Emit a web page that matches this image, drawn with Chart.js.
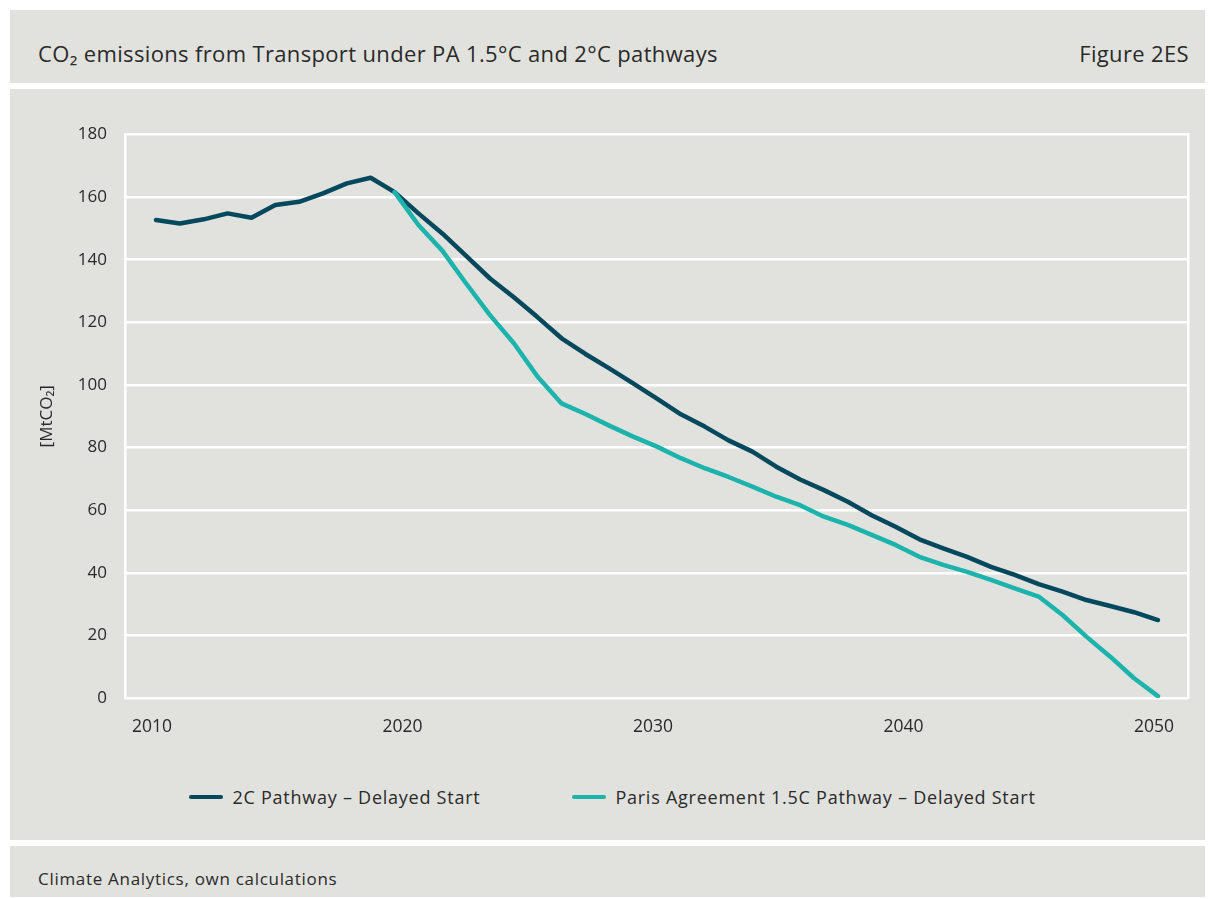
<!DOCTYPE html>
<html>
<head>
<meta charset="utf-8">
<script src="https://cdn.jsdelivr.net/npm/chart.js@4.4.1/dist/chart.umd.min.js"></script>
<style>
    body { margin: 0; background: #fff; font-family: 'Open Sans', sans-serif; color: #2a2a2a; }
    .page { position: relative; width: 1215px; height: 899px; }
    .band { position: absolute; left: 10px; width: 1195px; background: #e1e2dd; }
    #head { top: 10px; height: 73px; }
    #head .title { position: absolute; left: 28px; top: 30px; font-size: 22px; line-height: 26px; letter-spacing: 0.35px; }
    #head .fig { position: absolute; right: 16px; top: 30px; font-size: 22px; line-height: 26px; letter-spacing: 0.35px; }
    #panel { top: 89px; height: 751px; }
    #chartBox { position: absolute; left: 0; top: 0; width: 1195px; height: 651px; }
    #legend { position: absolute; left: 0; top: 696px; width: 100%; display: flex; justify-content: center;
              padding-left: 10px; box-sizing: border-box; font-size: 18px; line-height: 24px; letter-spacing: 0.75px; }
    .item { display: flex; align-items: center; margin: 0 46px; }
    .swatch { width: 34px; height: 4px; border-radius: 2px; margin-right: 9px; }
    #foot { top: 846px; height: 51px; }
    #foot .src { position: absolute; left: 28px; top: 22px; font-size: 17px; line-height: 22px; letter-spacing: 0.7px; }
</style>
</head>
<body>
<div class="page">
    <div class="band" id="head">
        <div class="title">CO₂ emissions from Transport under PA 1.5°C and 2°C pathways</div>
        <div class="fig">Figure 2ES</div>
    </div>
    <div class="band" id="panel">
        <div id="chartBox"><canvas id="lineChart"></canvas></div>
        <div id="legend"></div>
    </div>
    <div class="band" id="foot">
        <div class="src">Climate Analytics, own calculations</div>
    </div>
</div>
<script>
// series, 43 evenly spaced steps from 2010 to 2050
const pathway2C = [
    152.7, 151.6, 152.9, 154.8, 153.4, 157.5, 158.5, 161.2, 164.4, 166.2,
    161.6, 154.8, 148.4, 141.2, 134.0, 128.0, 121.6, 114.9, 109.9, 105.3,
    100.5, 95.6, 90.6, 86.7, 82.3, 78.7, 73.9, 69.8, 66.4, 62.7,
    58.4, 54.7, 50.7, 47.8, 45.1, 41.9, 39.3, 36.4, 34.0, 31.3,
    29.4, 27.4, 24.9
];
const pathwayPA15 = [
    null, null, null, null, null, null, null, null, null, null,
    161.6, 151.1, 142.9, 132.4, 122.3, 113.3, 102.6, 94.1, 90.7, 87.0,
    83.5, 80.3, 76.6, 73.4, 70.6, 67.5, 64.3, 61.6, 57.9, 55.3,
    52.1, 48.9, 45.1, 42.5, 40.3, 37.7, 35.0, 32.4, 26.5, 19.6,
    13.2, 6.3, 0.6
];
const xTickLabels = ['2010', '2020', '2030', '2040', '2050'];
const yTicks = [0, 20, 40, 60, 80, 100, 120, 140, 160, 180];
const seriesNames = ['2C Pathway – Delayed Start', 'Paris Agreement 1.5C Pathway – Delayed Start'];
const seriesColors = ['#03485d', '#1db3ad'];

const toPoints = arr => arr.map((v, i) => ({ x: i, y: v }));
const lastIdx = pathway2C.length - 1;
const tickPos = xTickLabels.map((_, k) => k * lastIdx / (xTickLabels.length - 1));

const tickFont = { family: 'Open Sans', size: 17 };

new Chart(document.getElementById('lineChart').getContext('2d'), {
    type: 'line',
    data: {
        datasets: [
            {
                label: seriesNames[0],
                data: toPoints(pathway2C),
                borderColor: seriesColors[0],
                borderWidth: 4.5,
                borderCapStyle: 'round',
                borderJoinStyle: 'round',
                pointRadius: 0,
                tension: 0,
                order: 2
            },
            {
                label: seriesNames[1],
                data: toPoints(pathwayPA15),
                borderColor: seriesColors[1],
                borderWidth: 4.5,
                borderCapStyle: 'round',
                borderJoinStyle: 'round',
                pointRadius: 0,
                tension: 0,
                spanGaps: false,
                order: 1
            }
        ]
    },
    options: {
        responsive: true,
        maintainAspectRatio: false,
        animation: false,
        layout: { padding: { top: 45.5, right: 17, left: 0, bottom: 0 } },
        plugins: {
            legend: { display: false },
            tooltip: { enabled: false }
        },
        scales: {
            x: {
                type: 'linear',
                min: -1.3,
                max: 43.26,
                afterBuildTicks: s => { s.ticks = tickPos.map(v => ({ value: v })); },
                afterFit: s => { s.height = 42; },
                ticks: {
                    color: '#2a2a2a',
                    font: { family: 'Open Sans', size: 17.5 },
                    padding: 11,
                    labelOffset: -4,
                    maxRotation: 0,
                    autoSkip: false,
                    callback: (v, i) => xTickLabels[i]
                },
                grid: { display: false },
                border: { display: false }
            },
            y: {
                min: 0,
                max: 180,
                afterBuildTicks: s => { s.ticks = yTicks.map(v => ({ value: v })); },
                afterFit: s => { s.width = 115; },
                ticks: { color: '#2a2a2a', font: tickFont, padding: 18 },
                grid: { color: '#ffffff', lineWidth: 2.5, drawTicks: false },
                border: { display: true, color: '#ffffff', width: 2.5 },
                title: {
                    display: true,
                    text: '[MtCO₂]',
                    color: '#2a2a2a',
                    font: { family: 'Open Sans', size: 17 },
                    padding: { top: 27, bottom: 0 }
                }
            },
            yRight: {
                position: 'right',
                min: 0,
                max: 180,
                afterFit: s => { s.width = 0; },
                ticks: { display: false },
                grid: { display: false },
                border: { display: true, color: '#ffffff', width: 2.5 }
            }
        }
    }
});

// legend built from the series names and colours
const legendEl = document.getElementById('legend');
seriesNames.forEach((name, i) => {
    const item = document.createElement('div');
    item.className = 'item';
    const sw = document.createElement('span');
    sw.className = 'swatch';
    sw.style.background = seriesColors[i];
    const txt = document.createElement('span');
    txt.textContent = name;
    item.appendChild(sw);
    item.appendChild(txt);
    legendEl.appendChild(item);
});
</script>
</body>
</html>
